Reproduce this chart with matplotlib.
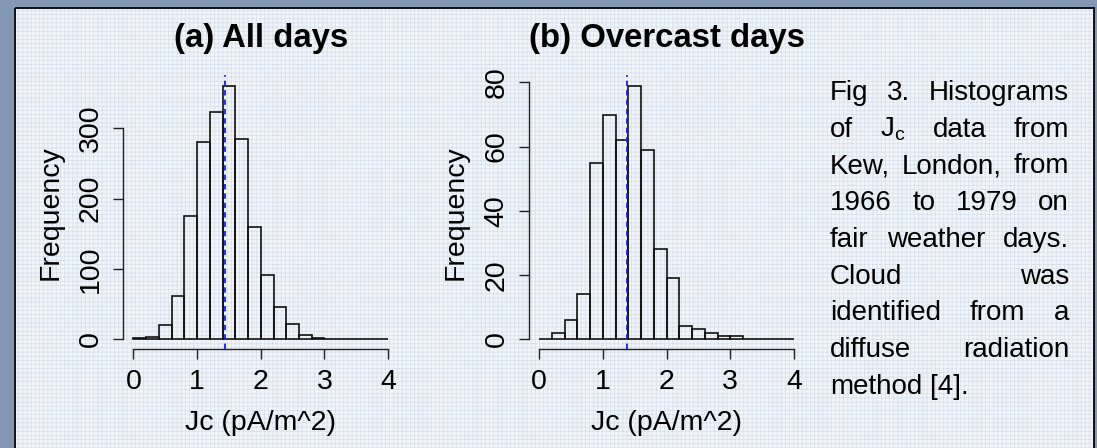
import matplotlib
matplotlib.use("Agg")
import matplotlib.pyplot as plt
from matplotlib.patches import Rectangle
import numpy as np

# ---------------- data ----------------
bin_edges = [0.0, 0.2, 0.4, 0.6, 0.8, 1.0, 1.2, 1.4, 1.6, 1.8, 2.0,
             2.2, 2.4, 2.6, 2.8, 3.0, 3.2, 3.4, 3.6, 3.8, 4.0]
counts_all = [1, 3, 20, 61, 175, 281, 323, 361, 285, 160,
              91, 45, 21, 6, 1.5, 0, 0, 0, 0, 0]
counts_overcast = [0, 2, 6, 14, 55, 70, 62, 79, 59, 28,
                   19, 4, 3, 2, 1, 1, 0, 0, 0, 0]
mean_all = 1.443
mean_overcast = 1.375
yticks_all = [0, 100, 200, 300]
yticks_overcast = [0, 20, 40, 60, 80]
xticks = [0, 1, 2, 3, 4]
titles = ["(a) All days", "(b) Overcast days"]
xlabel = "Jc (pA/m^2)"
ylabel = "Frequency"
caption_lines = [
    ["Fig", "3.", "Histograms"],
    ["of", r"J$_\mathrm{c}$", "data", "from"],
    ["Kew,", "London,", "from"],
    ["1966", "to", "1979", "on"],
    ["fair", "weather", "days."],
    ["Cloud", "was"],
    ["identified", "from", "a"],
    ["diffuse", "radiation"],
    ["method", "[4]."],
]

# ---------------- style ----------------
FONT = "Liberation Sans"
plt.rcParams["font.family"] = [FONT, "DejaVu Sans"]
plt.rcParams["mathtext.fontset"] = "custom"
plt.rcParams["mathtext.rm"] = FONT
plt.rcParams["mathtext.it"] = FONT + ":italic"
plt.rcParams["hatch.linewidth"] = 0.5

W, H = 1097, 448
fig = plt.figure(figsize=(W / 100, H / 100), dpi=100)
fig.patch.set_facecolor("#8398b3")

def px_rect(left, top, width, height):
    return [left / W, 1 - (top + height) / H, width / W, height / H]

# background panel
bg = fig.add_axes([0, 0, 1, 1])
bg.set_xlim(0, W)
bg.set_ylim(H, 0)
bg.axis("off")
bg.add_patch(Rectangle((15, 8), 1079, 460, facecolor="#f1f4f9",
                       edgecolor="none", zorder=1))
bg.add_patch(Rectangle((15, 8), 1079, 460, facecolor="none", hatch="++++",
                       edgecolor="#d5dfec", linewidth=0, zorder=2))
bg.add_patch(Rectangle((15, 8), 1079, 460, facecolor="none",
                       edgecolor="#111111", linewidth=1.4, zorder=3))

TICK_FS = 20.5
LAB_FS = 20.5

def draw_hist(left, counts, mean, yticks, title):
    top, height, width = 75.5, 273.7, 275.0
    ax = fig.add_axes(px_rect(left, top, width, height))
    ax.patch.set_alpha(0)
    ymax = max(counts)
    ax.bar(bin_edges[:-1], counts, width=np.diff(bin_edges), align="edge",
           fill=False, edgecolor="#111111", linewidth=1.2)
    ax.axvline(mean, color="#1a1aff", linestyle=(0, (3, 2.2)), linewidth=1.3)
    ax.set_xlim(-0.04 * 4 + 0, 4 + 0.04 * 4)
    ax.set_ylim(-0.04 * ymax, 1.04 * ymax)
    for s in ["top", "right"]:
        ax.spines[s].set_visible(False)
    ax.spines["left"].set_bounds(yticks[0], yticks[-1])
    ax.spines["bottom"].set_bounds(xticks[0], xticks[-1])
    for s in ["left", "bottom"]:
        ax.spines[s].set_linewidth(1.0)
        ax.spines[s].set_color("#222222")
    ax.set_xticks(xticks)
    ax.set_yticks(yticks)
    ax.set_xticklabels([str(t) for t in xticks])
    ax.set_yticklabels([str(t) for t in yticks])
    ax.tick_params(direction="out", length=7, width=1.0, labelsize=TICK_FS,
                   colors="#222222", labelcolor="black")
    ax.tick_params(axis="x", pad=7)
    ax.tick_params(axis="y", pad=7, labelrotation=90)
    for lab in ax.get_yticklabels():
        lab.set_va("center")
    cx = left + width / 2
    cy = top + height / 2
    bg.text(cx, 39, title, ha="center", va="center", fontsize=23.7,
            fontweight="bold", zorder=5)
    bg.text(cx, 423, xlabel, ha="center", va="center", fontsize=LAB_FS,
            zorder=5)
    bg.text(left - 73, cy, ylabel, ha="center", va="center", rotation=90,
            fontsize=LAB_FS, zorder=5)
    return ax

draw_hist(123.3, counts_all, mean_all, yticks_all, titles[0])
draw_hist(529.1, counts_overcast, mean_overcast, yticks_overcast, titles[1])

# justified caption
renderer = fig.canvas.get_renderer()
CAP_FS = 20
x0, x1 = 830, 1069
baseline0, spacing = 100, 36.7
for i, words in enumerate(caption_lines):
    yb = baseline0 + i * spacing
    texts = [bg.text(0, yb, w, ha="left", va="baseline", fontsize=CAP_FS,
                     zorder=5) for w in words]
    widths = [t.get_window_extent(renderer).width for t in texts]
    last = i == len(caption_lines) - 1
    if last or len(words) == 1:
        space = 0.278 * CAP_FS * 100 / 72
    else:
        space = (x1 - x0 - sum(widths)) / (len(words) - 1)
    x = x0
    for t, w in zip(texts, widths):
        t.set_x(x)
        x += w + space

fig.savefig("out.png", dpi=100, facecolor=fig.get_facecolor())
